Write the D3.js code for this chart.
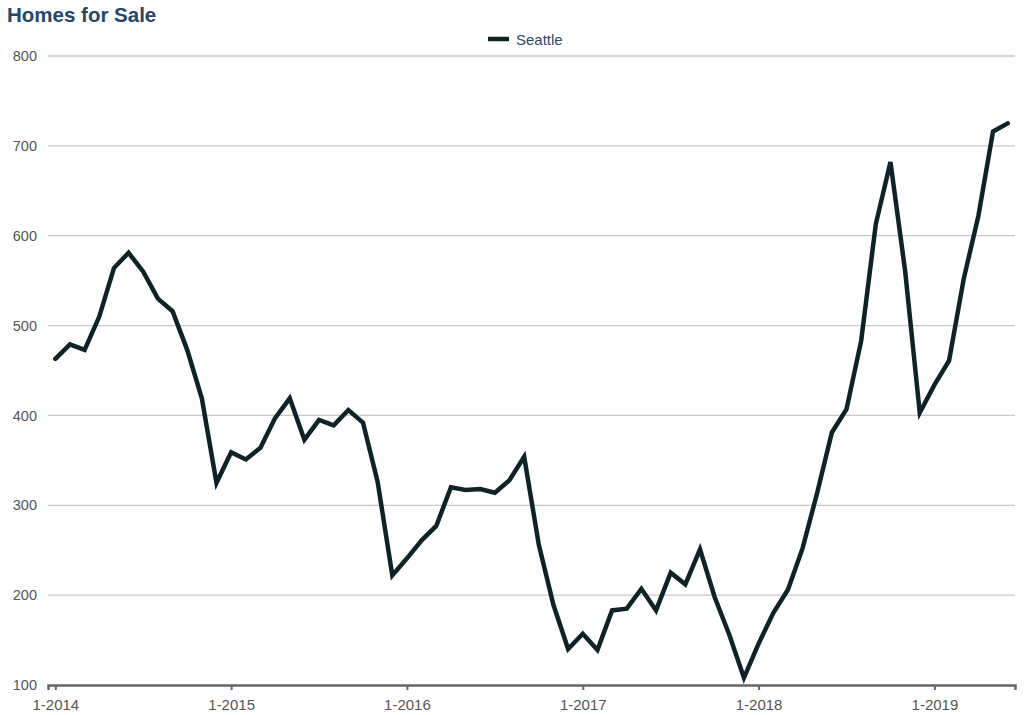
<!DOCTYPE html>
<html>
<head>
<meta charset="utf-8">
<script src="https://cdn.jsdelivr.net/npm/d3@7"></script>
<style>
  html, body { margin: 0; padding: 0; background: #fff; }
  svg { display: block; font-family: "Liberation Sans", Arial, Helvetica, sans-serif; }
</style>
</head>
<body>
<svg id="chart" width="1024" height="715"></svg>
<script>
const title = "Homes for Sale";
const seriesName = "Seattle";
const years = [2014, 2015, 2016, 2017, 2018, 2019];
const yTicks = [100, 200, 300, 400, 500, 600, 700, 800];
const seattle = [
  463, 479, 473, 510, 564, 581, 560, 530, 516, 473, 419, 325,
  359, 351, 364, 397, 419, 373, 395, 389, 406, 392, 326, 222,
  241, 261, 277, 320, 317, 318, 314, 328, 354, 256, 189, 140,
  157, 139, 183, 185, 207, 183, 225, 212, 251, 198, 156, 108,
  146, 180, 206, 252, 314, 381, 407, 483, 613, 682, 561, 403,
  434, 461, 552, 622, 716, 725
];

const months = seattle.map((_, i) => {
  const y = years[0] + Math.floor(i / 12);
  const m = (i % 12) + 1;
  return m + "-" + y;
});
const tickLabels = years.map(y => "1-" + y);

const svg = d3.select("#chart");
const margin = { left: 48, right: 9, top: 56, bottom: 30 };
const W = 1024, H = 715;

const x = d3.scalePoint().domain(months).range([margin.left, W - margin.right]).padding(0.5);
const y = d3.scaleLinear().domain([100, 800]).range([H - margin.bottom, margin.top]);

// gridlines
svg.append("g")
  .selectAll("line")
  .data(yTicks.filter(t => t !== 100))
  .join("line")
  .attr("x1", margin.left).attr("x2", W - margin.right)
  .attr("y1", d => y(d)).attr("y2", d => y(d))
  .attr("stroke", "#c8c8c8").attr("stroke-width", 1.3);

// y axis labels
const yAxis = d3.axisLeft(y).tickValues(yTicks).tickSize(0).tickPadding(11);
const gy = svg.append("g").attr("transform", `translate(${margin.left},0)`).call(yAxis);
gy.select(".domain").remove();
gy.selectAll("text").attr("fill", "#555").style("font-size", "14.5px")
  .style("font-family", "'Liberation Sans', Arial, sans-serif");

// x axis
const xAxis = d3.axisBottom(x).tickValues(tickLabels).tickSize(5).tickPadding(9);
const gx = svg.append("g").attr("transform", `translate(0,${y(100)})`).call(xAxis);
gx.select(".domain").attr("stroke", "#666").attr("stroke-width", 2.5);
gx.selectAll(".tick line").attr("stroke", "#666").attr("stroke-width", 2);
gx.selectAll("text").attr("fill", "#555").style("font-size", "15px")
  .style("font-family", "'Liberation Sans', Arial, sans-serif");

// line
const line = d3.line().x((d, i) => x(months[i])).y(d => y(d));
svg.append("path")
  .datum(seattle)
  .attr("d", line)
  .attr("fill", "none")
  .attr("stroke", "#0e2327")
  .attr("stroke-width", 4.5)
  .attr("stroke-linejoin", "miter")
  .attr("stroke-linecap", "round");

// title
svg.append("text")
  .attr("x", 7).attr("y", 22)
  .attr("fill", "#26466d")
  .style("font-size", "20.5px").style("font-weight", "bold")
  .text(title);

// legend
const lg = svg.append("g").attr("transform", "translate(488,39)");
lg.append("line").attr("x1", 0).attr("x2", 21).attr("y1", 0).attr("y2", 0)
  .attr("stroke", "#0e2327").attr("stroke-width", 4.5);
lg.append("text").attr("x", 28).attr("y", 5.5)
  .attr("fill", "#2c4a6e").style("font-size", "15px")
  .text(seriesName);
</script>
</body>
</html>
